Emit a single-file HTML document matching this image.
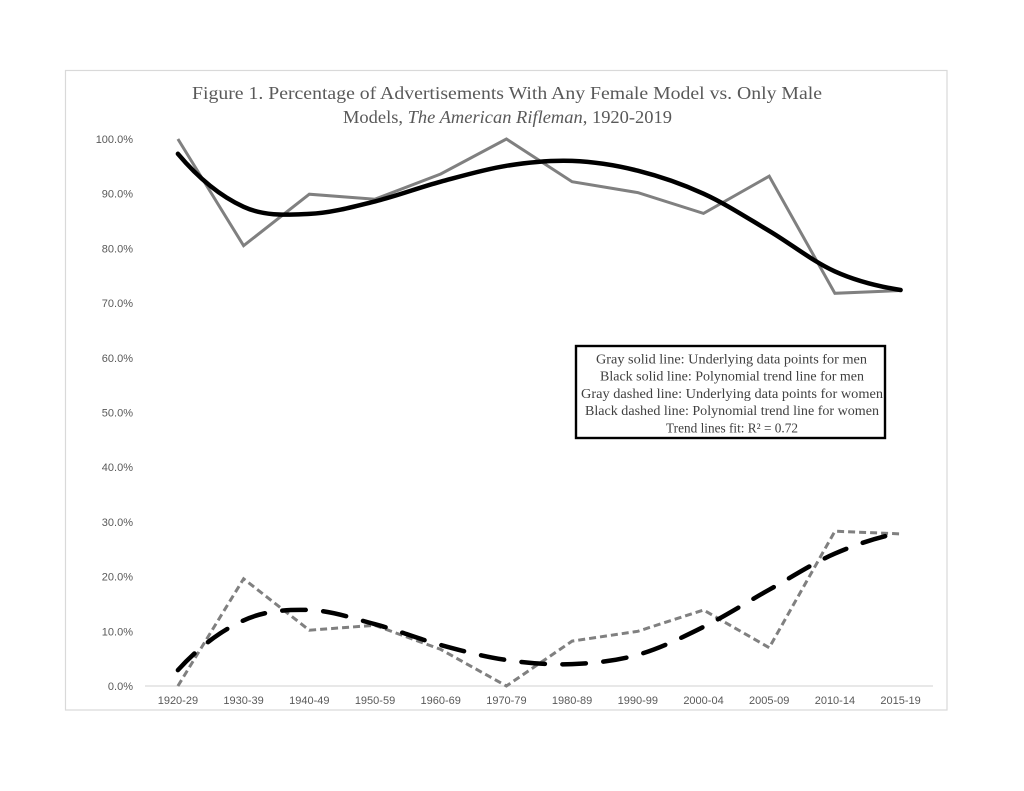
<!DOCTYPE html>
<html><head><meta charset="utf-8"><style>
html,body{margin:0;padding:0;background:#fff;}
svg{display:block;}
</style></head><body>
<svg width="1024" height="791" viewBox="0 0 1024 791" xmlns="http://www.w3.org/2000/svg">
<rect x="0" y="0" width="1024" height="791" fill="#fff"/>
<rect x="65.5" y="70.5" width="881.5" height="639.5" fill="#fff" stroke="#d9d9d9" stroke-width="1.2"/>
<g font-family="'Liberation Serif', serif" fill="#595959" font-size="18">
<text x="192" y="99" textLength="630" lengthAdjust="spacingAndGlyphs">Figure 1. Percentage of Advertisements With Any Female Model vs. Only Male</text>
<text x="343" y="123" textLength="329" lengthAdjust="spacingAndGlyphs">Models, <tspan font-style="italic">The American Rifleman</tspan>, 1920-2019</text>
</g>
<g font-family="'Liberation Sans', Arial, sans-serif" font-size="11" fill="#595959" text-anchor="end">
<text x="133" y="143">100.0%</text>
<text x="133" y="197.7">90.0%</text>
<text x="133" y="252.4">80.0%</text>
<text x="133" y="307.1">70.0%</text>
<text x="133" y="361.8">60.0%</text>
<text x="133" y="416.5">50.0%</text>
<text x="133" y="471.2">40.0%</text>
<text x="133" y="525.9">30.0%</text>
<text x="133" y="580.6">20.0%</text>
<text x="133" y="635.3">10.0%</text>
<text x="133" y="690">0.0%</text>
</g>
<line x1="145" y1="686" x2="933" y2="686" stroke="#d9d9d9" stroke-width="1.2"/>
<g font-family="'Liberation Sans', Arial, sans-serif" font-size="11" fill="#595959" text-anchor="middle">
<text x="177.9" y="704">1920-29</text>
<text x="243.6" y="704">1930-39</text>
<text x="309.3" y="704">1940-49</text>
<text x="375.0" y="704">1950-59</text>
<text x="440.7" y="704">1960-69</text>
<text x="506.4" y="704">1970-79</text>
<text x="572.1" y="704">1980-89</text>
<text x="637.8" y="704">1990-99</text>
<text x="703.5" y="704">2000-04</text>
<text x="769.2" y="704">2005-09</text>
<text x="834.9" y="704">2010-14</text>
<text x="900.6" y="704">2015-19</text>
</g>
<!-- men gray data -->
<polyline fill="none" stroke="#808080" stroke-width="3" stroke-linejoin="miter" points="177.9,139 243.6,245.7 309.3,194.2 375.0,199.2 440.7,174 506.4,139 572.1,181.7 637.8,192.6 703.5,213.4 769.2,176.2 834.9,293.3 900.6,290.5"/>
<!-- men trend -->
<path fill="none" stroke="#000" stroke-width="4.5" stroke-linecap="round" d="M177.9,153.8 C199.8,179.8 221.7,196.8 243.6,206.8 C265.5,216.8 287.4,214.8 309.3,213.9 C331.2,213.0 353.1,206.8 375.0,201.4 C396.9,196.0 418.8,187.6 440.7,181.7 C462.6,175.8 484.5,169.3 506.4,165.8 C528.3,162.3 550.2,160.1 572.1,160.9 C594.0,161.7 615.9,165.2 637.8,170.7 C659.7,176.2 681.6,183.7 703.5,193.7 C725.4,203.7 747.3,218.0 769.2,230.9 C791.1,243.9 813.0,261.6 834.9,271.4 C856.8,281.3 878.7,286.5 900.6,290"/>
<!-- women gray dashed data -->
<polyline fill="none" stroke="#808080" stroke-width="3" stroke-dasharray="7 4" points="177.9,686 243.6,578.8 309.3,630.2 375.0,625.3 440.7,649.4 506.4,686 572.1,641.1 637.8,631.3 703.5,610.0 769.2,647.7 834.9,531.2 900.6,533.9"/>
<!-- women trend -->
<path fill="none" stroke="#000" stroke-width="4.5" stroke-linecap="round" stroke-dasharray="23.5 17.5" d="M177.9,670.1 C199.8,646.1 221.7,630.4 243.6,620.4 C265.5,610.4 287.4,609.4 309.3,610.0 C331.2,610.6 353.1,618.4 375.0,624.2 C396.9,630.0 418.8,639.0 440.7,645.0 C462.6,651.0 484.5,656.8 506.4,660.0 C528.3,663.2 550.2,665.0 572.1,664.1 C594.0,663.2 615.9,661.0 637.8,654.8 C659.7,648.6 681.6,637.8 703.5,626.9 C725.4,616.0 747.3,601.9 769.2,589.7 C791.1,577.5 813.0,563.1 834.9,553.6 C856.8,544.1 878.7,536.8 900.6,532.8"/>
<!-- legend -->
<rect x="576" y="346" width="309" height="92" fill="#fff" stroke="#000" stroke-width="2.4"/>
<g font-family="'Liberation Serif', serif" font-size="13.5" fill="#404040" text-anchor="middle">
<text x="731.5" y="363.3" textLength="271" lengthAdjust="spacingAndGlyphs">Gray solid line: Underlying data points for men</text>
<text x="732" y="380.6" textLength="264" lengthAdjust="spacingAndGlyphs">Black solid line: Polynomial trend line for men</text>
<text x="732" y="397.9" textLength="302" lengthAdjust="spacingAndGlyphs">Gray dashed line: Underlying data points for women</text>
<text x="732" y="415.2" textLength="294" lengthAdjust="spacingAndGlyphs">Black dashed line: Polynomial trend line for women</text>
<text x="732" y="432.5" textLength="132" lengthAdjust="spacingAndGlyphs">Trend lines fit: R² = 0.72</text>
</g>
</svg>
</body></html>
